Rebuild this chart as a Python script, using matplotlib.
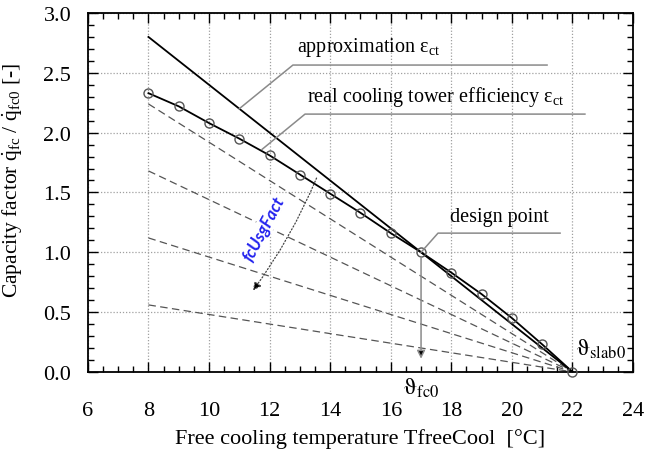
import matplotlib
matplotlib.use("Agg")
import matplotlib.pyplot as plt
import numpy as np
from matplotlib.ticker import MultipleLocator

plt.rcParams['font.family'] = ['Liberation Serif', 'DejaVu Serif']
plt.rcParams['mathtext.fontset'] = 'custom'
plt.rcParams['mathtext.rm'] = 'Liberation Serif'
plt.rcParams['mathtext.it'] = 'Liberation Serif:italic'

# free cooling temperature [°C]
t_real = [8, 9, 10, 11, 12, 13, 14, 15, 16, 17, 18, 19, 20, 21, 22]
# real cooling tower efficiency capacity factor
q_real = [2.33, 2.22, 2.08, 1.95, 1.81, 1.65, 1.49, 1.33, 1.16, 1.00,
          0.83, 0.65, 0.45, 0.23, 0.00]

# approximation line
t_approx = [8, 22]
q_approx = [2.80, 0.00]

# usage factor lines (dashed)
t_usg = [8, 22]
q_usg_start = [2.24, 1.68, 1.12, 0.56]

t_design, q_design = 17, 1.0
t_slab0 = 22

fig = plt.figure(figsize=(6.46, 4.52), dpi=100)
ax = fig.add_axes([0.136, 0.175, 0.844, 0.794])

for q0 in q_usg_start:
    ax.plot(t_usg, [q0, 0.0], color='#555555', lw=0.9, ls=(0, (6, 3.5)), zorder=2)

ax.plot(t_approx, q_approx, color='black', lw=1.3, zorder=3)
ax.plot(t_real, q_real, color='black', lw=1.3, zorder=3)
ax.plot(t_real, q_real, ls='none', marker='o', ms=6.5, mfc='none',
        mec='#555555', mew=1.0, zorder=4, clip_on=False)

ax.set_xlim(6, 24)
ax.set_ylim(0, 3.0)
ax.xaxis.set_major_locator(MultipleLocator(2))
ax.xaxis.set_minor_locator(MultipleLocator(0.5))
ax.yaxis.set_major_locator(MultipleLocator(0.5))
ax.yaxis.set_minor_locator(MultipleLocator(0.1))
ax.yaxis.set_major_formatter(matplotlib.ticker.FormatStrFormatter('%.1f'))
ax.tick_params(which='both', direction='in', top=True, right=True,
               labelsize=16, width=1.0)
ax.tick_params(which='major', length=7)
ax.tick_params(which='minor', length=4)
ax.tick_params(axis='y', pad=12)
ax.tick_params(axis='x', pad=21)
ax.grid(True, which='major', color='#a0a0a0', ls=(0, (1, 1.5)), lw=0.9)
for s in ax.spines.values():
    s.set_linewidth(1.3)

ax.set_xlabel('Free cooling temperature TfreeCool  [°C]', fontsize=16, labelpad=6)
ax.set_ylabel(r'Capacity factor $\dot{\mathrm{q}}_{\mathrm{fc}}$ / $\dot{\mathrm{q}}_{\mathrm{fc0}}$ [-]',
              fontsize=15.5)
ax.yaxis.set_label_coords(-0.118, 0.535)

# callouts with leader lines
gray = '#8a8a8a'
ax.plot([11.0, 12.77, 21.16], [2.20, 2.565, 2.565], color=gray, lw=1.1, zorder=5)
ax.text(12.9, 2.62, r'approximation ε$_{\mathrm{ct}}$', fontsize=14.5, va='bottom')

ax.plot([11.75, 13.17, 22.41], [1.86, 2.155, 2.155], color=gray, lw=1.1, zorder=5)
ax.text(13.25, 2.21, r'real cooling tower efficiency ε$_{\mathrm{ct}}$', fontsize=14.5, va='bottom')

ax.plot([t_design, 17.56, 21.59], [q_design, 1.16, 1.16], color=gray, lw=1.1, zorder=5)
ax.text(17.95, 1.22, 'design point', fontsize=14.5, va='bottom')

# design point drop to the free cooling temperature
ax.annotate('', xy=(t_design, 0.11), xytext=(t_design, 0.95),
            arrowprops=dict(arrowstyle='-|>', color=gray, lw=1.1,
                            mutation_scale=12, shrinkA=0, shrinkB=0,
                            fc='black', ec=gray), zorder=5)
ax.text(t_design, -0.03, r'$\mathrm{\vartheta}_{\mathrm{fc0}}$', fontsize=17,
        math_fontfamily='stix', ha='center', va='top')
ax.text(22.1, 0.1, r'$\mathrm{\vartheta}_{\mathrm{slab0}}$', fontsize=17,
        math_fontfamily='stix', ha='left', va='bottom')

# usage factor direction
ax.annotate('', xy=(11.45, 0.68), xytext=(13.55, 1.62),
            arrowprops=dict(arrowstyle='-|>', color='#444444', lw=0.9, ls=':',
                            connectionstyle='arc3,rad=-0.06',
                            mutation_scale=12, shrinkA=0, shrinkB=0,
                            fc='black'), zorder=5)
ax.text(11.8, 1.20, 'fcUsgFact', fontsize=12, color='#2222ee', rotation=62,
        family=['Lato', 'DejaVu Sans'], style='italic', weight='bold',
        ha='center', va='center', zorder=6,
        bbox=dict(fc='white', ec='none', pad=1.0))

fig.savefig('out.png', dpi=100)
